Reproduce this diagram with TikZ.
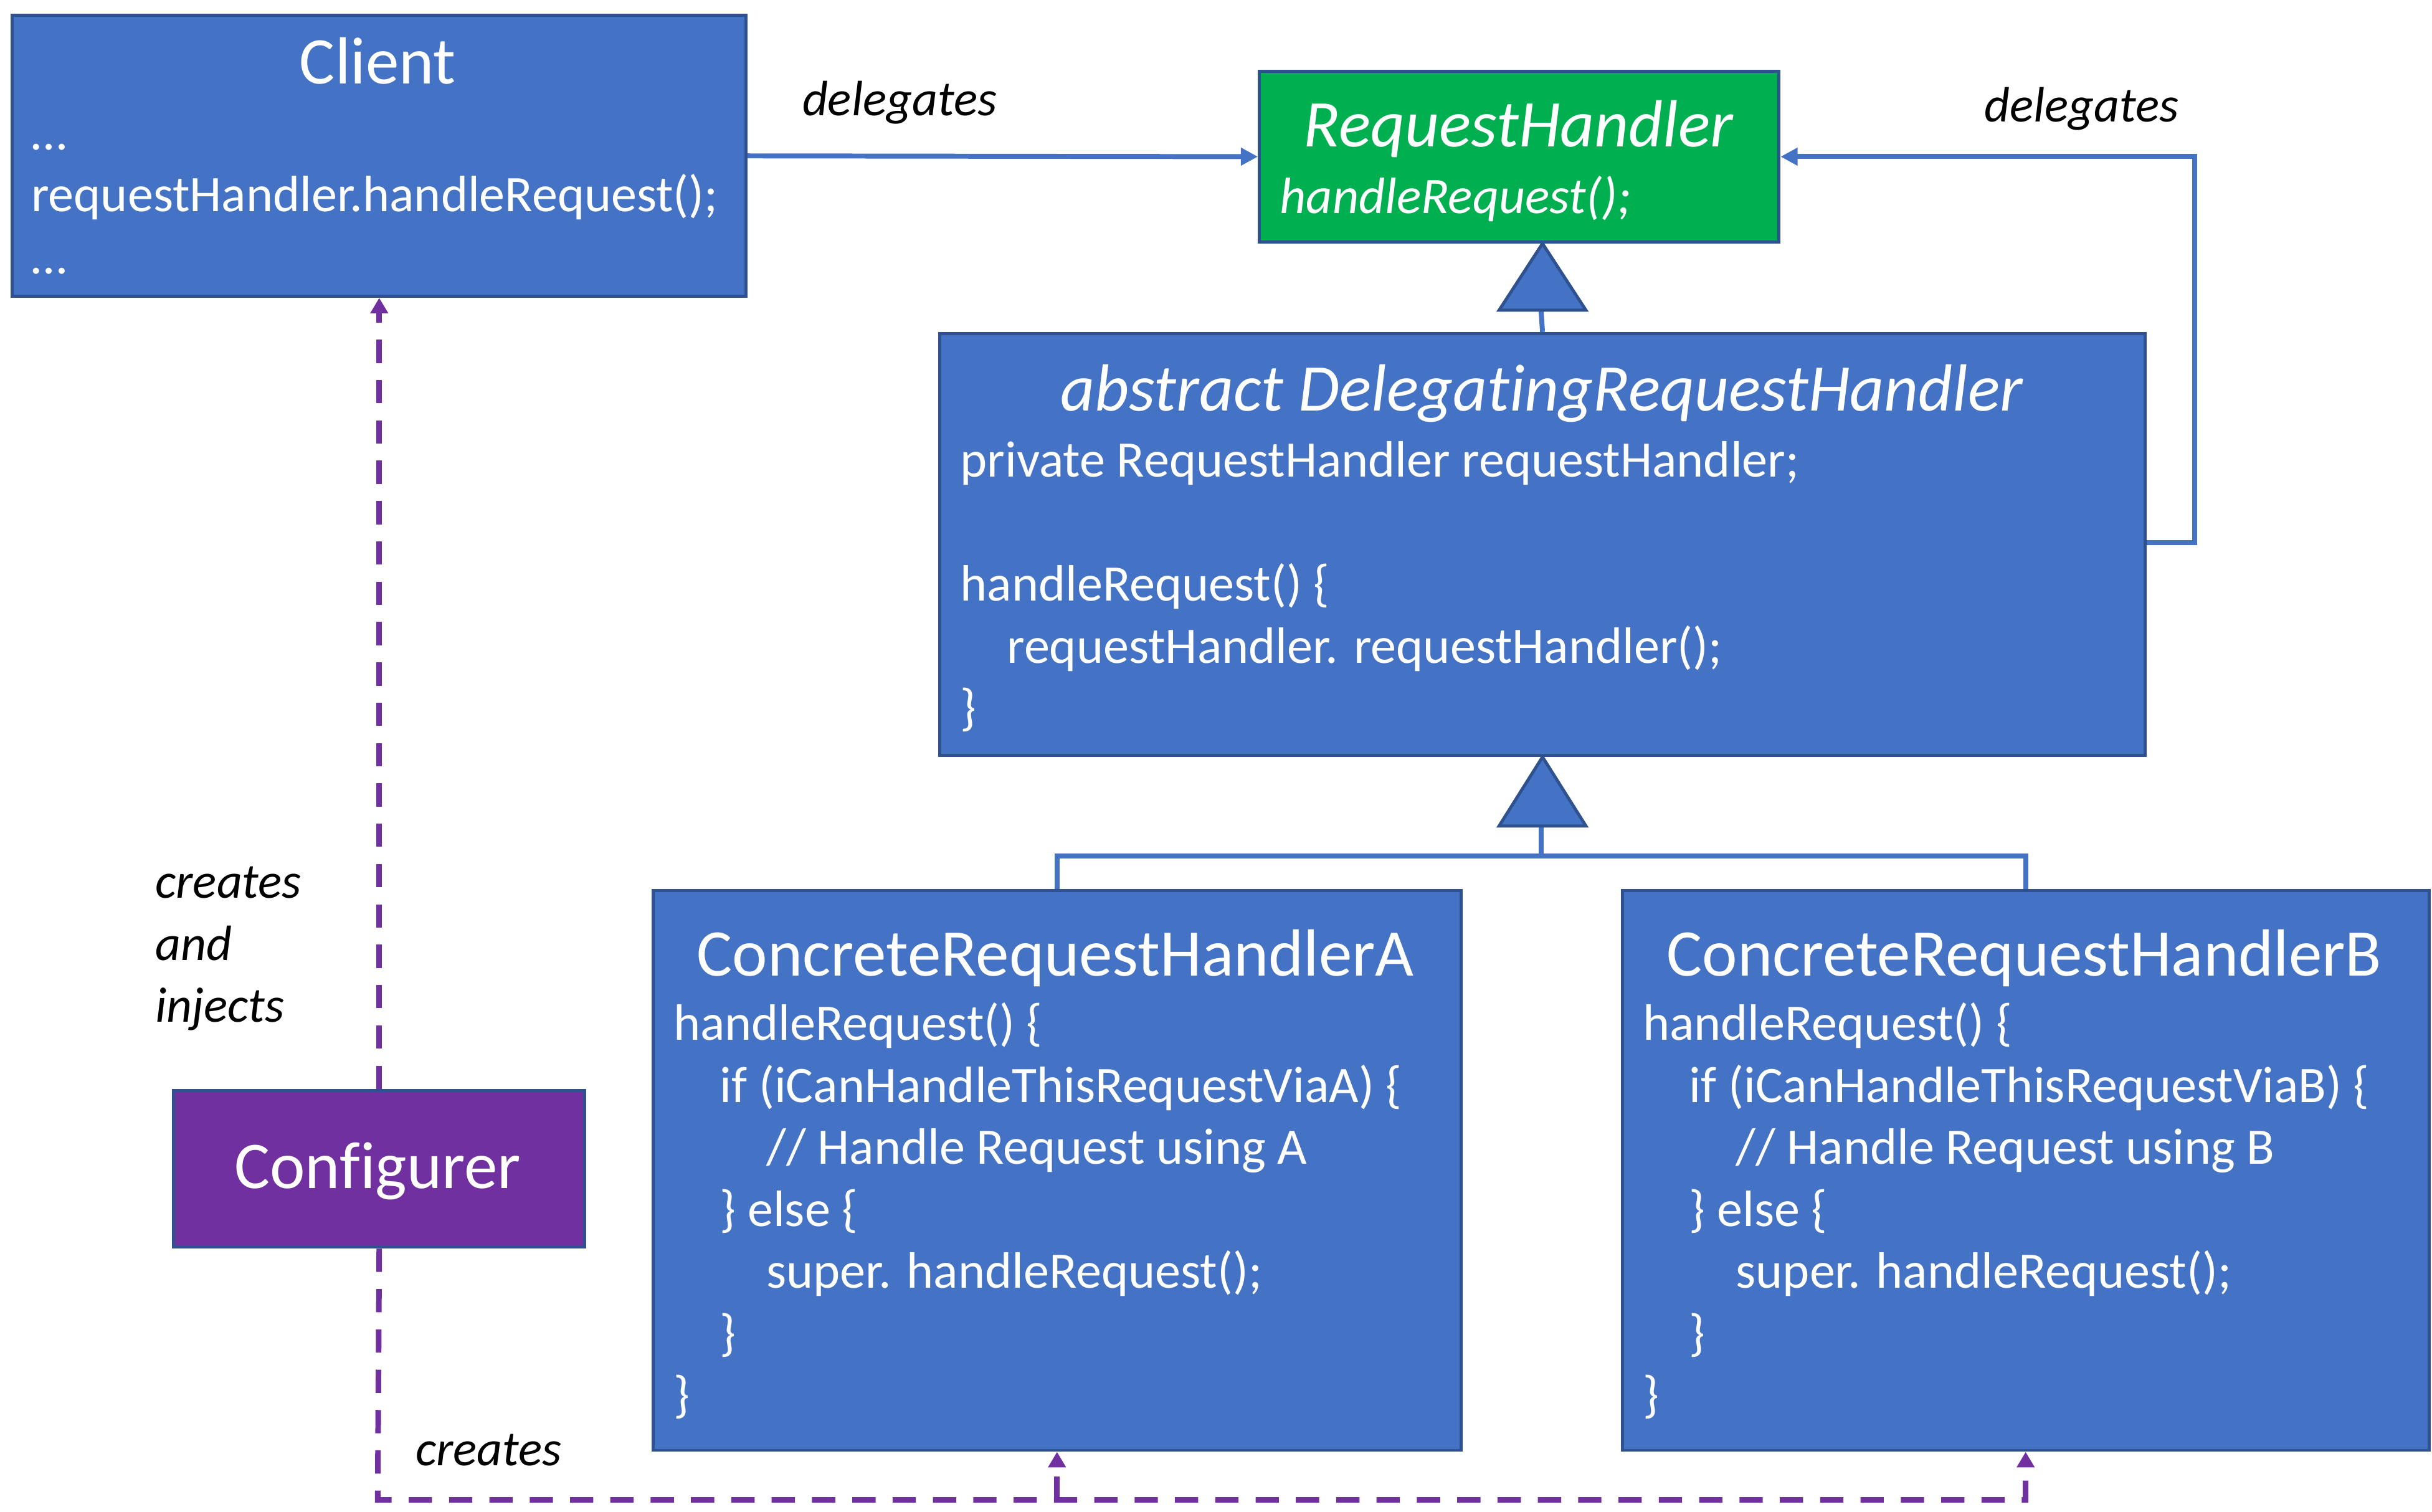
\documentclass[tikz,border=0pt]{standalone}
\usepackage{fontspec}
\setmainfont{Carlito}[Ligatures=NoCommon]
\usetikzlibrary{arrows.meta}
\definecolor{boxblue}{HTML}{4472C4}
\definecolor{boxedge}{HTML}{2F528F}
\definecolor{rhgreen}{HTML}{00B050}
\definecolor{cfgpurple}{HTML}{7030A0}
\newcommand{\codeblock}[1]{\vtop{\baselineskip=40pt\lineskiplimit=-100pt\lineskip=0pt #1}}
\newcommand{\codeln}[2][0]{\hbox{\hskip #1pt #2}}
\begin{document}
\begin{tikzpicture}[x=1pt,y=-1pt,
  box/.style={draw=boxedge, line width=2pt, fill=boxblue, inner sep=0, anchor=north west},
  titletext/.style={text=white, font=\fontsize{43}{52}\selectfont, inner sep=0, anchor=base},
  codetext/.style={text=white, font=\fontsize{33}{40}\selectfont, inner sep=0, anchor=base west},
  lbl/.style={font=\itshape\fontsize{32}{40}\selectfont, inner sep=0},
  conn/.style={draw=boxblue, line width=3.2pt},
  inh/.style={draw=boxedge, line width=2pt, fill=boxblue, line join=miter},
  dep/.style={draw=cfgpurple, line width=3.6pt, dash pattern=on 15pt off 11pt},
  bluetip/.style={-{Triangle[length=11pt,width=11pt]}},
  purpletip/.style={-{Triangle[length=10pt,width=11pt]}}
]
\useasboundingbox (0,0) rectangle (1568,974.4);

% boxes
\node[box, minimum width=473pt, minimum height=181pt] (client) at (7,9) {};
\node[box, fill=rhgreen, minimum width=335pt, minimum height=110pt] (rh) at (811,45) {};
\node[box, minimum width=777pt, minimum height=272pt] (abs) at (605,214) {};
\node[box, minimum width=521pt, minimum height=361pt] (crA) at (420,573) {};
\node[box, minimum width=520pt, minimum height=361pt] (crB) at (1045,573) {};
\node[box, fill=cfgpurple, minimum width=265pt, minimum height=101pt] (cfg) at (111,702) {};

% texts
\node[titletext] (clientT) at (243.5,54) {Client};
\node[codetext] (clientC) at (20,96.5) {\codeblock{\codeln{…}\codeln{requestHandler.handleRequest();}\codeln{…}}};

\node[titletext, font=\itshape\fontsize{43}{52}\selectfont] (rhT) at (979,94.5) {RequestHandler};
\node[codetext, font=\itshape\fontsize{33}{40}\selectfont] (rhC) at (825,137.5) {handleRequest();};

\node[titletext, font=\itshape\fontsize{43}{52}\selectfont] (absT) at (994,265) {abstract DelegatingRequestHandler};
\node[codetext] (absC) at (619,307.5) {\codeblock{\codeln{private RequestHandler requestHandler;}\codeln{}\codeln{handleRequest() \{}\codeln[30]{requestHandler. requestHandler();}\codeln{\}}}};

\node[titletext] (crAT) at (680.5,629) {ConcreteRequestHandlerA};
\node[codetext] (crAC) at (434,670.5) {\codeblock{\codeln{handleRequest() \{}\codeln[30]{if (iCanHandleThisRequestViaA) \{}\codeln[60]{// Handle Request using A}\codeln[30]{\} else \{}\codeln[60]{super. handleRequest();}\codeln[30]{\}}\codeln{\}}}};

\node[titletext] (crBT) at (1305,629) {ConcreteRequestHandlerB};
\node[codetext] (crBC) at (1059,670.5) {\codeblock{\codeln{handleRequest() \{}\codeln[30]{if (iCanHandleThisRequestViaB) \{}\codeln[60]{// Handle Request using B}\codeln[30]{\} else \{}\codeln[60]{super. handleRequest();}\codeln[30]{\}}\codeln{\}}}};

\node[titletext] (cfgT) at (243.5,766) {Configurer};

% labels
\node[lbl] (del1) at (580,66) {delegates};
\node[lbl] (del2) at (1342,70) {delegates};
\node[lbl, anchor=base west] (cai) at (100,579) {\codeblock{\codeln{creates}\codeln{and}\codeln{injects}}};
\node[lbl] (cr) at (315,935) {creates};

% connectors
\draw[conn, bluetip] (client.east) -- (rh.west);
\coordinate (rloop) at (1415,350);
\draw[conn, bluetip] (abs.east |- rloop) -- (rloop) |- (rh.east);

% inheritance 1
\coordinate (t1apex) at (abs.north |- rh.south);
\coordinate (t1base) at (993.5,199);
\draw[conn] (abs.north) -- (t1base);
\draw[inh] (t1apex) -- ++(28,43) -- ++(-56,0) -- cycle;

% inheritance 2
\coordinate (t2base) at (993.5,531);
\coordinate (bus) at (993.5,552);
\draw[conn] (t2base) -- (bus);
\draw[conn] (crA.north) |- (bus) -| (crB.north);
\draw[inh] (abs.south) -- ++(28,44.5) -- ++(-56,0) -- cycle;

% dependencies
\draw[dep, purpletip] (cfg.north) -- (client.south);
\coordinate (dbot) at (243.5,967);
\draw[dep, purpletip] (cfg.south) -- (dbot) -| (crB.south);
\draw[dep, purpletip] (crA.south |- dbot) -- (crA.south);
\end{tikzpicture}
\end{document}
